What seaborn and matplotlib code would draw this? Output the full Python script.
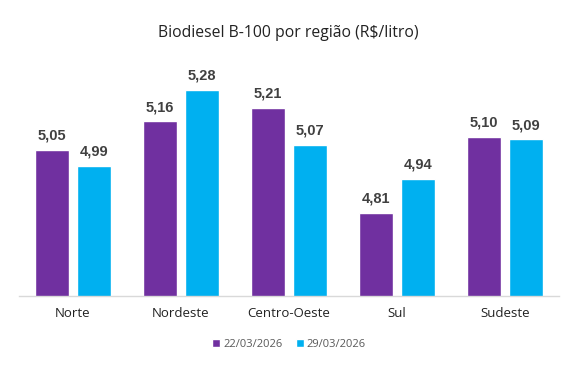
import numpy as np
import pandas as pd
import seaborn as sns
import matplotlib.pyplot as plt

regioes = ['Norte', 'Nordeste', 'Centro-Oeste', 'Sul', 'Sudeste']
datas = ['22/03/2026', '29/03/2026']
precos_22 = [5.05, 5.16, 5.21, 4.81, 5.10]
precos_29 = [4.99, 5.28, 5.07, 4.94, 5.09]
cores = ['#7030A0', '#00B0F0']

df = pd.DataFrame({
    'regiao': regioes * 2,
    'data': [datas[0]] * 5 + [datas[1]] * 5,
    'preco': precos_22 + precos_29,
})

sns.set_style('white')
plt.rcParams['font.family'] = ['Open Sans', 'DejaVu Sans']

fig = plt.figure(figsize=(5.77, 3.66), dpi=100)
ax = fig.add_axes([19 / 577, 70 / 366, 540 / 577, 236 / 366])

sns.barplot(data=df, x='regiao', y='preco', hue='data', palette=cores,
            width=0.778, gap=0.214, saturation=1, ax=ax, legend=True)

ax.set_ylim(4.492, 4.492 + 236 / 262)
ax.set_xlim(-0.5, 4.5)

for cont in ax.containers:
    for bar in cont:
        h = bar.get_height()
        ax.annotate(f'{h:.2f}'.replace('.', ','),
                    (bar.get_x() + bar.get_width() / 2, h),
                    xytext=(0, 5), textcoords='offset points',
                    ha='center', va='bottom', fontsize=10.5, fontweight='bold',
                    color='#404040', family='Liberation Sans')

ax.set_xlabel('')
ax.set_ylabel('')
ax.set_yticks([])
ax.tick_params(axis='x', length=0, pad=8, labelsize=9.5, labelcolor='#222222')
for s in ['top', 'right', 'left']:
    ax.spines[s].set_visible(False)
ax.spines['bottom'].set_color('#d9d9d9')
ax.spines['bottom'].set_linewidth(1)

leg = ax.legend(loc='upper center', bbox_to_anchor=(0.5, -0.14), ncol=2,
                frameon=False, fontsize=8, handlelength=0.7, handleheight=0.7,
                handletextpad=0.3, columnspacing=1.2)
for t in leg.get_texts():
    t.set_color('#595959')

fig.text(0.5, 1 - 33 / 366, 'Biodiesel B-100 por região (R$/litro)',
         ha='center', va='center', fontsize=11.3, color='#222222')

fig.savefig('out.png', dpi=100)
